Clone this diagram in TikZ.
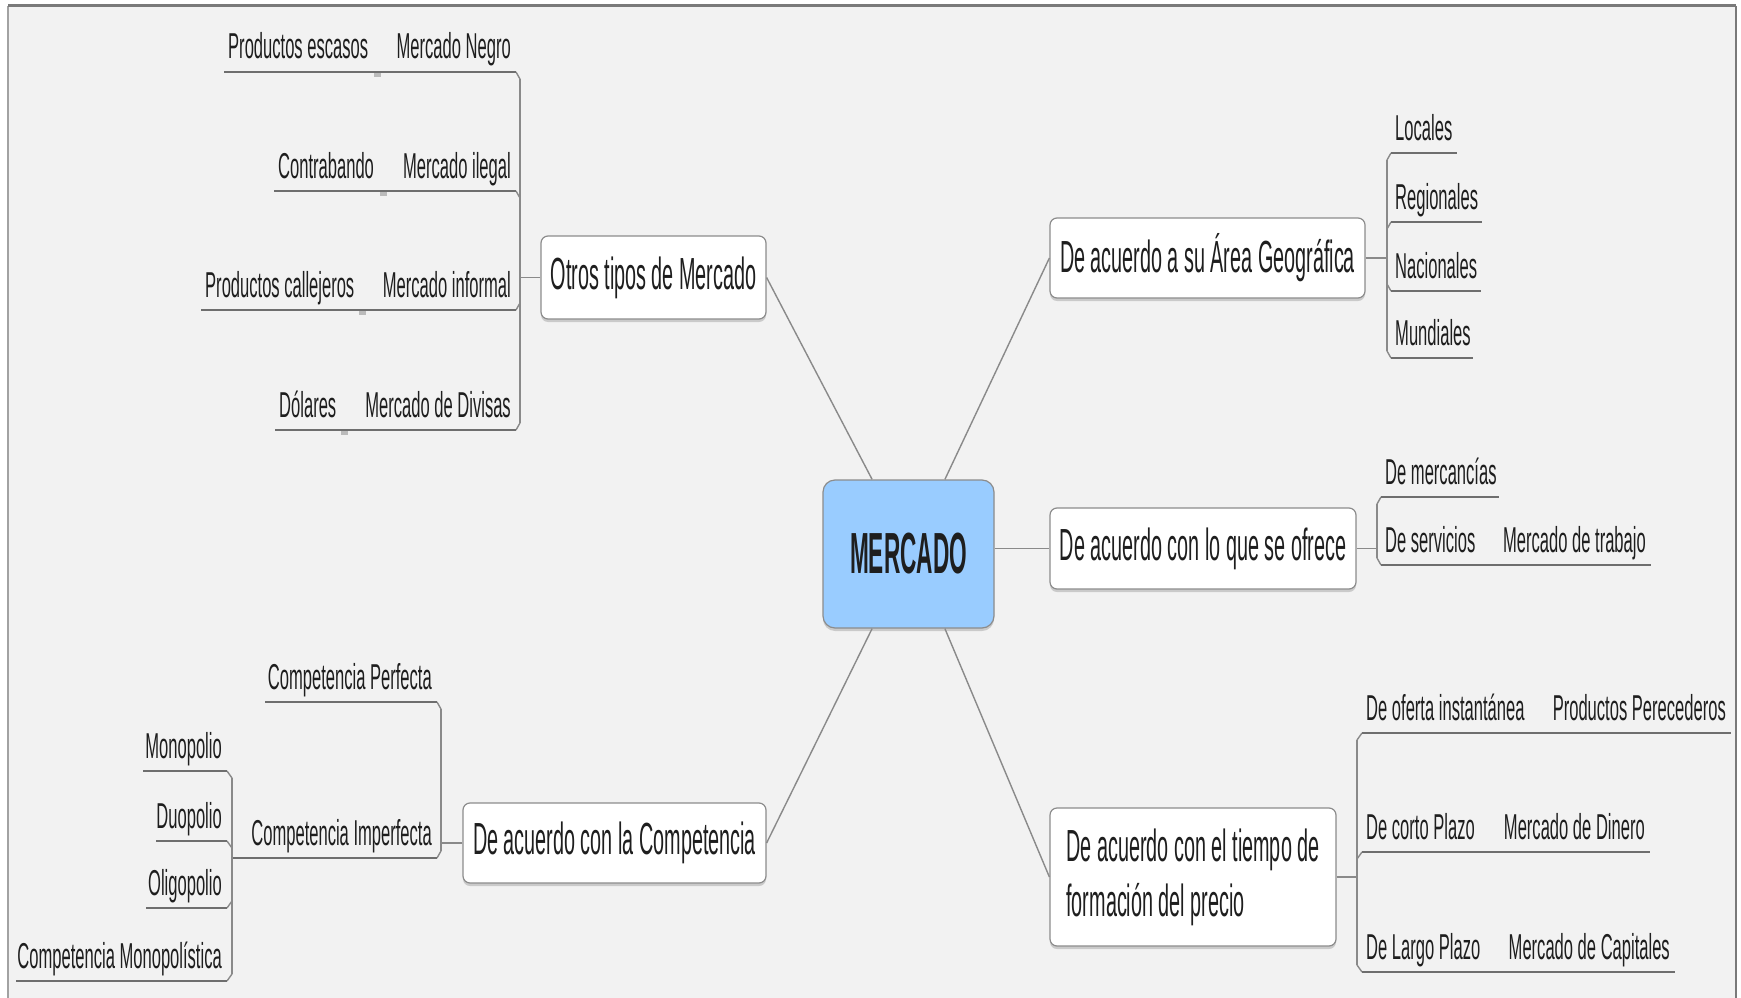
\documentclass[tikz,border=0pt]{standalone}
\usepackage{fontspec}
\newfontfamily\lvzero{Liberation Sans}[FakeStretch=0.39]
\newfontfamily\lvone{Liberation Sans}[FakeStretch=0.44]
\newfontfamily\lvtwo{Liberation Sans}[FakeStretch=0.46]
\usetikzlibrary{shadows}
\definecolor{bgc}{HTML}{F2F2F2}
\definecolor{linegray}{HTML}{8A8A8A}
\definecolor{ulgray}{HTML}{6E6E6E}
\definecolor{boxgray}{HTML}{8C8C8C}
\definecolor{txt}{HTML}{1E1E1E}
\definecolor{centralfill}{HTML}{99CCFF}
\definecolor{framegray}{HTML}{7A7A7A}
\definecolor{notchgray}{HTML}{BBBBBB}
\begin{document}
\begin{tikzpicture}[x=1pt,y=-1pt,
  centralbox/.style={draw=boxgray, line width=1.2pt, fill=centralfill, rounded corners=12pt,
    minimum width=171pt, minimum height=148pt, inner sep=0pt,
    font=\lvzero\bfseries\fontsize{58}{60}\selectfont, text=txt,
    drop shadow={shadow xshift=0pt, shadow yshift=-3pt, opacity=0.35, fill=black!50}},
  topic/.style={draw=boxgray, line width=1.2pt, fill=white, rounded corners=7pt, inner sep=0pt,
    font=\lvone\fontsize{45}{55}\selectfont, text=txt,
    drop shadow={shadow xshift=0pt, shadow yshift=-3pt, opacity=0.35, fill=black!50}},
  leaf/.style={inner sep=0pt, font=\lvtwo\fontsize{36}{40}\selectfont, text=txt},
  uline/.style={draw=ulgray, line width=2.2pt},
  link/.style={draw=linegray, line width=1.4pt},
  brk/.style={draw=linegray, line width=1.4pt},
  notch/.style={fill=notchgray, draw=none}]
\useasboundingbox (0,0) rectangle (1741,998);
% background and frame
\fill[white] (0,0) rectangle (1741,998);
\fill[bgc] (8,6) rectangle (1736,998);
\draw[framegray!70, line width=1.5pt] (8,6) -- (8,998);
\draw[framegray, line width=2.5pt] (1736,6) -- (1736,998);
\draw[framegray, line width=3pt] (8,6) -- (1736,6);

% central node and topics
\node[centralbox] (m) at (908.5,554) {MERCADO};
\node[topic, minimum width=225pt, minimum height=83pt] (otros) at (653.5,277.5) {Otros tipos de Mercado};
\node[topic, minimum width=315pt, minimum height=80pt] (area) at (1207.5,258) {De acuerdo a su Área Geográfica};
\node[topic, minimum width=306pt, minimum height=81pt] (ofrece) at (1203,548.5) {De acuerdo con lo que se ofrece};
\node[topic, minimum width=286pt, minimum height=138pt, align=left] (tiempo) at (1193,877) {De acuerdo con el tiempo de\\formación del precio};
\node[topic, minimum width=303pt, minimum height=80pt] (comp) at (614.5,843) {De acuerdo con la Competencia};

% connectors from the center
\draw[link] (m.116) -- (otros.east);
\draw[link] (m.64) -- (area.west);
\draw[link] (m.east |- ofrece.west) -- (ofrece.west);
\draw[link] (m.-64) -- (tiempo.west);
\draw[link] (m.-116) -- (comp.east);

% ---------- Area geografica ----------
\coordinate (abk) at (1387,258);
\draw[link] (area.east) -- (abk);
\draw[brk] (1387,160) -- (1387,351);
\coordinate (loc-a) at (1391,153); \coordinate (loc-b) at (1457,153);
\coordinate (reg-a) at (1391,222); \coordinate (reg-b) at (1482,222);
\coordinate (nac-a) at (1391,291); \coordinate (nac-b) at (1481,291);
\coordinate (mun-a) at (1391,358); \coordinate (mun-b) at (1473,358);
\draw[brk] (1387,160) -- (loc-a);
\draw[brk] (1387,229) -- (reg-a);
\draw[brk] (1387,284) -- (nac-a);
\draw[brk] (1387,351) -- (mun-a);
\draw[uline] (loc-a) -- (loc-b);
\draw[uline] (reg-a) -- (reg-b);
\draw[uline] (nac-a) -- (nac-b);
\draw[uline] (mun-a) -- (mun-b);
\node[leaf, anchor=base west] (loc) at (1395,140) {Locales};
\node[leaf, anchor=base west] (reg) at (1395,209) {Regionales};
\node[leaf, anchor=base west] (nac) at (1395,278) {Nacionales};
\node[leaf, anchor=base west] (mun) at (1395,345) {Mundiales};

% ---------- Lo que se ofrece ----------
\coordinate (obk) at (1377,548.5);
\draw[link] (ofrece.east) -- (obk);
\draw[brk] (1377,504) -- (1377,558);
\coordinate (mer-a) at (1381,497); \coordinate (mer-b) at (1499,497);
\coordinate (ser-a) at (1381,565); \coordinate (ser-b) at (1651,565);
\draw[brk] (1377,504) -- (mer-a);
\draw[brk] (1377,558) -- (ser-a);
\draw[uline] (mer-a) -- (mer-b);
\draw[uline] (ser-a) -- (ser-b);
\node[leaf, anchor=base west] (mer) at (1385,484) {De mercancías};
\node[leaf, anchor=base west] (ser) at (1385,552) {De servicios};
\node[leaf, anchor=base east] (trab) at (1646,552) {Mercado de trabajo};

% ---------- Tiempo de formacion ----------
\coordinate (tbk) at (1357,877);
\draw[link] (tiempo.east) -- (tbk);
\draw[brk] (1357,740) -- (1357,965);
\coordinate (ofe-a) at (1362,733); \coordinate (ofe-b) at (1731,733);
\coordinate (cor-a) at (1362,852); \coordinate (cor-b) at (1650,852);
\coordinate (lar-a) at (1362,972); \coordinate (lar-b) at (1675,972);
\draw[brk] (1357,740) -- (ofe-a);
\draw[brk] (1357,859) -- (cor-a);
\draw[brk] (1357,965) -- (lar-a);
\draw[uline] (ofe-a) -- (ofe-b);
\draw[uline] (cor-a) -- (cor-b);
\draw[uline] (lar-a) -- (lar-b);
\node[leaf, anchor=base west] (ofe) at (1366,720) {De oferta instantánea};
\node[leaf, anchor=base east] (pper) at (1726,720) {Productos Perecederos};
\node[leaf, anchor=base west] (cor) at (1366,839) {De corto Plazo};
\node[leaf, anchor=base east] (din) at (1645,839) {Mercado de Dinero};
\node[leaf, anchor=base west] (lar) at (1366,959) {De Largo Plazo};
\node[leaf, anchor=base east] (cap) at (1670,959) {Mercado de Capitales};

% ---------- Otros tipos de Mercado ----------
\coordinate (xbk) at (520,277.5);
\draw[link] (otros.west) -- (xbk);
\draw[brk] (520,79) -- (520,423);
\coordinate (neg-b) at (516,72);  \coordinate (neg-a) at (224,72);
\coordinate (ile-b) at (516,191); \coordinate (ile-a) at (274,191);
\coordinate (inf-b) at (516,310); \coordinate (inf-a) at (201,310);
\coordinate (div-b) at (516,430); \coordinate (div-a) at (275,430);
\draw[brk] (520,79) -- (neg-b);
\draw[brk] (520,198) -- (ile-b);
\draw[brk] (520,303) -- (inf-b);
\draw[brk] (520,423) -- (div-b);
\draw[uline] (neg-a) -- (neg-b);
\draw[uline] (ile-a) -- (ile-b);
\draw[uline] (inf-a) -- (inf-b);
\draw[uline] (div-a) -- (div-b);
\fill[notch] (374,73) rectangle (381,77);
\fill[notch] (380,192) rectangle (387,196);
\fill[notch] (359,311) rectangle (366,315);
\fill[notch] (341,431) rectangle (348,435);
\node[leaf, anchor=base east] (neg) at (511,59) {Mercado Negro};
\node[leaf, anchor=base west] (esc) at (228,59) {Productos escasos};
\node[leaf, anchor=base east] (ile) at (511,178) {Mercado ilegal};
\node[leaf, anchor=base west] (con) at (278,178) {Contrabando};
\node[leaf, anchor=base east] (inf) at (511,297) {Mercado informal};
\node[leaf, anchor=base west] (cal) at (205,297) {Productos callejeros};
\node[leaf, anchor=base east] (div) at (511,417) {Mercado de Divisas};
\node[leaf, anchor=base west] (dol) at (279,417) {Dólares};

% ---------- Competencia ----------
\coordinate (cbk) at (441,843);
\draw[link] (comp.west) -- (cbk);
\draw[brk] (441,709) -- (441,851);
\coordinate (per-b) at (437,702); \coordinate (per-a) at (265,702);
\coordinate (imp-b) at (437,858); \coordinate (imp-a) at (232,858);
\draw[brk] (441,709) -- (per-b);
\draw[brk] (441,851) -- (imp-b);
\draw[uline] (per-a) -- (per-b);
\draw[uline] (imp-a) -- (imp-b);
\node[leaf, anchor=base east] (per) at (432,689) {Competencia Perfecta};
\node[leaf, anchor=base east] (imp) at (432,845) {Competencia Imperfecta};
% sub-bracket
\draw[brk] (232,778) -- (232,974);
\coordinate (mono-b) at (227,771); \coordinate (mono-a) at (143,771);
\coordinate (duo-b) at (227,841);  \coordinate (duo-a) at (156,841);
\coordinate (oli-b) at (227,908);  \coordinate (oli-a) at (146,908);
\coordinate (cm-b) at (227,981);   \coordinate (cm-a) at (16,981);
\draw[brk] (232,778) -- (mono-b);
\draw[brk] (232,848) -- (duo-b);
\draw[brk] (232,901) -- (oli-b);
\draw[brk] (232,974) -- (cm-b);
\draw[uline] (mono-a) -- (mono-b);
\draw[uline] (duo-a) -- (duo-b);
\draw[uline] (oli-a) -- (oli-b);
\draw[uline] (cm-a) -- (cm-b);
\node[leaf, anchor=base east] (mono) at (222,758) {Monopolio};
\node[leaf, anchor=base east] (duo) at (222,828) {Duopolio};
\node[leaf, anchor=base east] (oli) at (222,895) {Oligopolio};
\node[leaf, anchor=base east] (cmon) at (222,968) {Competencia Monopolística};
\end{tikzpicture}
\end{document}
